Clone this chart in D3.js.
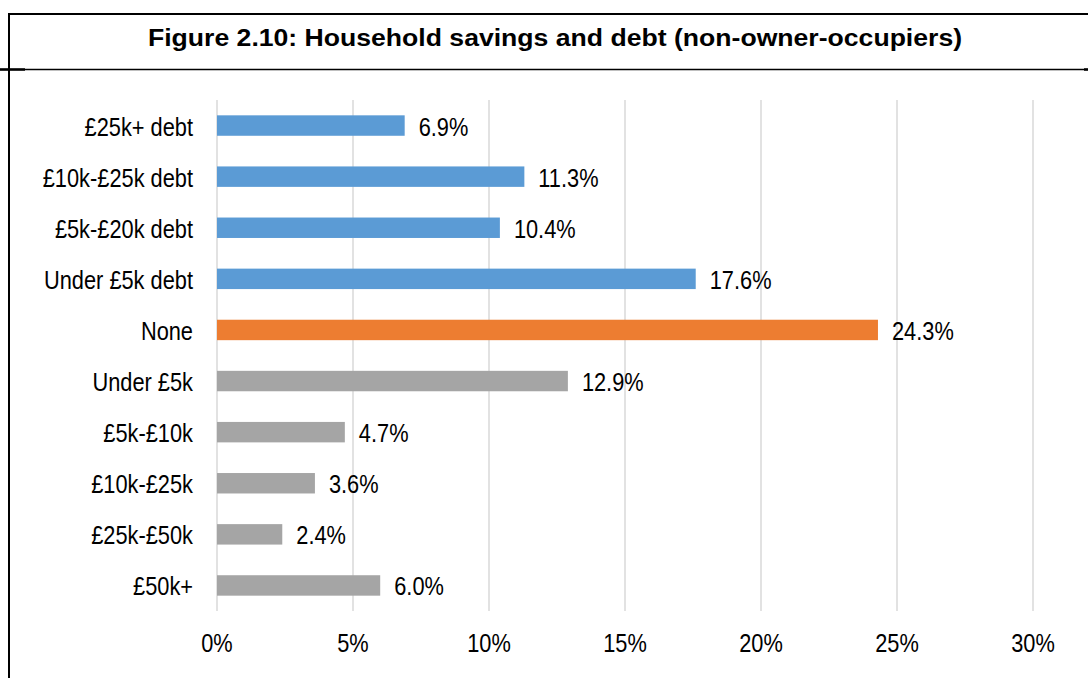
<!DOCTYPE html>
<html>
<head>
<meta charset="utf-8">
<script src="https://cdn.jsdelivr.net/npm/d3@7"></script>
<style>
  html, body { margin: 0; padding: 0; background: #fff; }
  svg { display: block; font-family: "Liberation Sans", Arial, Helvetica, sans-serif; }
</style>
</head>
<body>
<svg id="chart" width="1088" height="678"></svg>
<script>
// Household savings and debt, non-owner-occupiers (% of households)
const categories = ["£25k+ debt", "£10k-£25k debt", "£5k-£20k debt", "Under £5k debt", "None",
                    "Under £5k", "£5k-£10k", "£10k-£25k", "£25k-£50k", "£50k+"];
const shares = [6.9, 11.3, 10.4, 17.6, 24.3, 12.9, 4.7, 3.6, 2.4, 6.0];
const groups = ["debt", "debt", "debt", "debt", "none", "savings", "savings", "savings", "savings", "savings"];
const xTicks = [0, 5, 10, 15, 20, 25, 30];
const titleText = "Figure 2.10: Household savings and debt (non-owner-occupiers)";

const groupColour = d3.scaleOrdinal()
  .domain(["debt", "none", "savings"])
  .range(["#5B9BD5", "#ED7D31", "#A5A5A5"]);

const svg = d3.select("#chart");
const W = 1088, H = 678;
const fontSize = 21.8, stretch = 1.15;

// label text, drawn a little taller than its width
function tallText(sel, x, y, anchor) {
  return sel.attr("text-anchor", anchor)
    .attr("dominant-baseline", "central")
    .attr("font-size", fontSize)
    .attr("fill", "#000")
    .attr("transform", (d, i) => `translate(${x(d, i)},${y(d, i)}) scale(1,${stretch})`);
}

// frame around the figure and its title band
svg.append("line").attr("x1", 9).attr("x2", W).attr("y1", 14).attr("y2", 14)
  .attr("stroke", "#000").attr("stroke-width", 2);
svg.append("line").attr("x1", 9).attr("x2", 9).attr("y1", 13).attr("y2", H)
  .attr("stroke", "#000").attr("stroke-width", 2);
svg.append("line").attr("x1", 0).attr("x2", W).attr("y1", 69.5).attr("y2", 69.5)
  .attr("stroke", "#000").attr("stroke-width", 1.5);
svg.append("line").attr("x1", 0).attr("x2", 25).attr("y1", 69.5).attr("y2", 69.5)
  .attr("stroke", "#000").attr("stroke-width", 2.5);
svg.append("line").attr("x1", 1084).attr("x2", W).attr("y1", 69.5).attr("y2", 69.5)
  .attr("stroke", "#000").attr("stroke-width", 2.5);

// title, wide bold type
svg.append("text")
  .attr("text-anchor", "middle")
  .attr("font-weight", "bold")
  .attr("font-size", 26.6)
  .attr("fill", "#000")
  .attr("transform", "translate(555,45.7) scale(1,0.88)")
  .text(titleText);

// scales
const x = d3.scaleLinear().domain([0, 30]).range([217, 1033]);
const y = d3.scaleBand().domain(categories).range([100, 611])
  .paddingInner(0.6).paddingOuter(0.3);

// vertical gridlines
svg.append("g").selectAll("line").data(xTicks).join("line")
  .attr("x1", d => x(d)).attr("x2", d => x(d))
  .attr("y1", 100).attr("y2", 611)
  .attr("stroke", "#D9D9D9").attr("stroke-width", 1.5);

// bars
svg.append("g").selectAll("rect").data(shares).join("rect")
  .attr("x", x(0))
  .attr("y", (d, i) => y(categories[i]))
  .attr("width", d => x(d) - x(0))
  .attr("height", y.bandwidth())
  .attr("fill", (d, i) => groupColour(groups[i]));

// value labels
svg.append("g").selectAll("text").data(shares).join("text")
  .call(tallText, d => x(d) + 14, (d, i) => y(categories[i]) + y.bandwidth() / 2 + 1.5, "start")
  .text(d => d.toFixed(1) + "%");

// category labels
svg.append("g").selectAll("text").data(categories).join("text")
  .call(tallText, () => 193, d => y(d) + y.bandwidth() / 2 + 1.5, "end")
  .text(d => d);

// x tick labels
svg.append("g").selectAll("text").data(xTicks).join("text")
  .call(tallText, d => x(d), () => 643, "middle")
  .text(d => d + "%");
</script>
</body>
</html>
